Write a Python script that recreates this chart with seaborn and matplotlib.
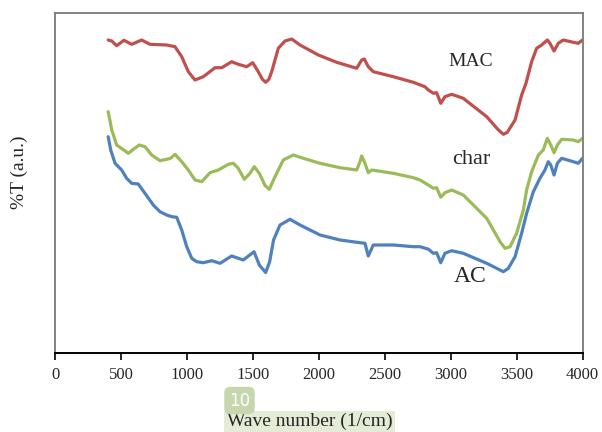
import numpy as np
import pandas as pd
import matplotlib
matplotlib.use("Agg")
import matplotlib.pyplot as plt
import seaborn as sns

# ---------------- data ----------------
mac_wn = [400, 427, 464, 520, 578, 654, 717, 844, 907, 958, 1008, 1059, 1122, 1211, 1262,
          1337, 1387, 1451, 1497, 1539, 1570, 1595, 1620, 1641, 1691, 1742, 1793, 1856, 1995,
          2134, 2286, 2324, 2344, 2374, 2412, 2564, 2716, 2804, 2830, 2868, 2893, 2924, 2956,
          3007, 3095, 3273, 3360, 3399, 3429, 3488, 3538, 3571, 3614, 3652, 3690, 3733, 3753,
          3784, 3816, 3854, 3930, 3968, 4000]
mac_t = [312.7, 311.7, 307.0, 312.4, 308.4, 312.7, 308.4, 307.7, 306.0, 296.0, 281.0, 272.7,
         276.0, 285.0, 285.0, 291.0, 288.4, 286.0, 290.0, 281.0, 273.5, 270.4, 273.5, 281.0,
         304.4, 311.7, 313.7, 307.7, 297.7, 290.4, 284.4, 292.7, 293.7, 286.0, 281.0, 276.0,
         270.4, 266.0, 262.7, 259.4, 260.0, 249.4, 256.0, 258.4, 254.4, 236.0, 223.0, 218.4,
         220.4, 232.7, 257.7, 269.4, 291.0, 304.4, 307.7, 312.7, 309.4, 301.7, 309.4, 312.7,
         310.4, 309.4, 312.7]

char_wn = [400, 427, 464, 510, 553, 591, 636, 679, 730, 793, 844, 874, 907, 958, 1008, 1059,
           1110, 1173, 1236, 1312, 1350, 1387, 1433, 1476, 1509, 1550, 1590, 1623, 1666, 1729,
           1805, 1881, 2008, 2160, 2286, 2311, 2324, 2349, 2374, 2400, 2564, 2716, 2767, 2830,
           2868, 2893, 2924, 2956, 3007, 3095, 3273, 3374, 3412, 3450, 3500, 3551, 3576, 3614,
           3665, 3702, 3733, 3759, 3784, 3809, 3842, 3930, 3968, 4000]
char_t = [241.0, 222.7, 207.7, 203.4, 199.4, 203.4, 207.7, 206.0, 197.7, 192.0, 193.4, 194.4,
          198.4, 191.0, 182.7, 172.7, 171.0, 180.0, 182.7, 188.4, 189.4, 184.4, 173.4, 179.4,
          186.0, 178.7, 167.2, 163.4, 176.0, 192.7, 197.7, 194.4, 189.4, 185.0, 182.7, 191.0,
          196.7, 189.4, 180.0, 182.7, 179.4, 175.0, 172.7, 167.7, 164.4, 165.0, 155.4, 160.0,
          162.7, 157.7, 134.4, 111.0, 104.4, 106.0, 119.4, 142.7, 162.7, 181.0, 197.7, 202.7,
          214.4, 207.7, 200.0, 207.7, 213.4, 212.7, 211.0, 214.4]

ac_wn = [400, 419, 452, 502, 540, 578, 628, 679, 742, 793, 844, 882, 920, 958, 996, 1034,
         1072, 1122, 1186, 1249, 1337, 1425, 1507, 1547, 1595, 1625, 1655, 1704, 1780, 1856,
         2008, 2160, 2311, 2349, 2374, 2412, 2564, 2716, 2767, 2830, 2868, 2893, 2924, 2956,
         3007, 3095, 3273, 3399, 3437, 3488, 3538, 3576, 3627, 3677, 3715, 3740, 3759, 3784,
         3809, 3842, 3930, 3968, 4000]
ac_t = [216.0, 202.7, 189.4, 182.7, 174.4, 169.4, 168.7, 159.4, 147.7, 141.0, 137.7, 136.0,
        135.4, 122.7, 106.0, 94.4, 91.0, 90.0, 92.0, 89.4, 96.7, 92.7, 101.0, 87.7, 80.2, 90.7,
        112.7, 127.7, 133.4, 127.7, 117.7, 112.7, 110.0, 109.4, 96.7, 107.7, 107.7, 106.0,
        106.0, 103.5, 99.4, 100.0, 90.0, 99.4, 102.0, 99.4, 89.4, 81.0, 84.4, 96.0, 119.4,
        139.4, 161.0, 174.4, 182.7, 191.0, 187.7, 177.7, 189.4, 194.4, 191.0, 189.4, 194.4]

series_names = ["MAC", "char", "AC"]
series_colors = ["#C0504D", "#9BBB59", "#4F81BD"]
x_ticks = [0, 500, 1000, 1500, 2000, 2500, 3000, 3500, 4000]

assert len(mac_wn) == len(mac_t)
assert len(char_wn) == len(char_t)
assert len(ac_wn) == len(ac_t)

frames = []
for name, wn, t in zip(series_names, [mac_wn, char_wn, ac_wn], [mac_t, char_t, ac_t]):
    frames.append(pd.DataFrame({"wn": wn, "T": t, "sample": name}))
df = pd.concat(frames, ignore_index=True)

# ---------------- figure ----------------
sns.set_style("white")
plt.rcParams["font.family"] = ["Liberation Serif", "DejaVu Serif"]

fig = plt.figure(figsize=(6.02, 4.32), dpi=100)
ax = fig.add_axes([55.5 / 602, 1 - 352.7 / 432, 527 / 602, 340 / 432])

sns.lineplot(data=df, x="wn", y="T", hue="sample", hue_order=series_names,
             palette=series_colors, sort=False, estimator=None, linewidth=2.3,
             legend=False, ax=ax, solid_joinstyle="round", solid_capstyle="round")

ax.set_xlim(0, 4000)
ax.set_ylim(0, 340)
ax.set_xticks(x_ticks)
ax.set_xticklabels([str(v) for v in x_ticks], fontsize=12)
ax.set_yticks([])
ax.tick_params(axis="x", direction="out", length=5, width=1.2, color="black", pad=5,
               bottom=True)
ax.set_xlabel("")
ax.set_ylabel("%T (a.u.)", fontsize=14)
ax.yaxis.set_label_coords(-0.053, 0.53)

for side in ["left", "top", "right"]:
    ax.spines[side].set_color("#7a7a7a")
    ax.spines[side].set_linewidth(1.3)
    ax.spines[side].set_visible(True)
ax.spines["bottom"].set_color("black")
ax.spines["bottom"].set_linewidth(1.4)
ax.spines["bottom"].set_visible(True)

# series labels
ax.text(3150, 352.7 - 61.7, "MAC", fontsize=14, ha="center", va="center")
ax.text(3155, 352.7 - 159, "char", fontsize=16, ha="center", va="center")
ax.text(3150, 352.7 - 276, "AC", fontsize=17, ha="center", va="center")

# x label with highlight and badge
fig.text(309.5 / 602, 1 - 421.5 / 432, "Wave number (1/cm)", fontsize=14,
         ha="center", va="center",
         bbox=dict(boxstyle="square,pad=0.12", facecolor="#e4ecd8", edgecolor="none"))
fig.text(239.5 / 602, 1 - 400.5 / 432, "10", fontsize=12, color="white",
         family=["DejaVu Sans"], ha="center", va="center",
         bbox=dict(boxstyle="round,pad=0.28,rounding_size=0.35", facecolor="#c7d7ad",
                   edgecolor="none"))

fig.savefig("out.png", dpi=100)
